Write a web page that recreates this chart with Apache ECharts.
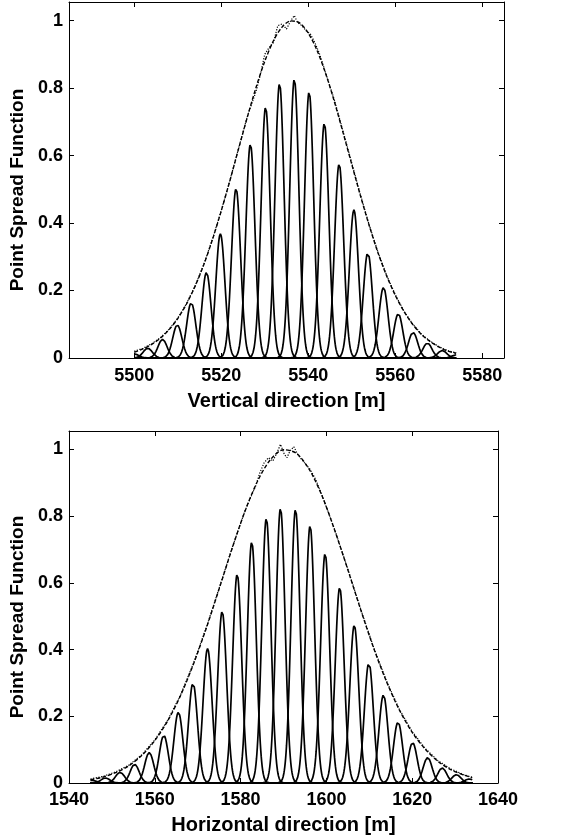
<!DOCTYPE html>
<html>
<head>
<meta charset="utf-8">
<script src="https://cdn.jsdelivr.net/npm/echarts@6/dist/echarts.min.js"></script>
<style>
html,body{margin:0;padding:0;background:#fff;}
#chart{width:577px;height:840px;}
</style>
</head>
<body>
<div id="chart"></div>
<script>
// ---------- data ----------
// Top panel: vertical direction
const xTicks1 = [5500, 5520, 5540, 5560, 5580];
const yTicks = [0, 0.2, 0.4, 0.6, 0.8, 1];
const peakCenters1 = [5500.0, 5503.1, 5506.5, 5509.9, 5513.1, 5516.6, 5519.8, 5523.4, 5526.7, 5530.2, 5533.4, 5536.8,
  5540.2, 5543.7, 5547.1, 5550.5, 5553.7, 5557.3, 5560.7, 5564.1, 5567.4, 5570.8, 5574.0];
const peakHeights1 = [0.012, 0.029, 0.055, 0.098, 0.164, 0.254, 0.368, 0.502, 0.634, 0.744, 0.814, 0.827,
  0.789, 0.696, 0.575, 0.439, 0.313, 0.209, 0.131, 0.076, 0.044, 0.022, 0.009];
const curveRange1 = [5500, 5574];
const envX1 = [5500, 5502, 5504, 5506, 5508, 5510, 5512, 5514, 5516, 5518, 5520, 5522, 5524, 5526, 5528, 5530,
  5532, 5534, 5536, 5538, 5540, 5542, 5544, 5546, 5548, 5550, 5552, 5554, 5556, 5558, 5560, 5562, 5564, 5566,
  5568, 5570, 5572, 5574];
const envDash1 = [0.017, 0.027, 0.040, 0.059, 0.084, 0.117, 0.160, 0.213, 0.277, 0.352, 0.436, 0.526, 0.621,
  0.714, 0.802, 0.879, 0.940, 0.981, 0.999, 0.993, 0.963, 0.912, 0.843, 0.760, 0.668, 0.574, 0.481, 0.393,
  0.313, 0.244, 0.186, 0.138, 0.100, 0.070, 0.049, 0.033, 0.021, 0.014];
const dotX1 = [5500, 5502, 5504, 5506, 5508, 5510, 5512, 5514, 5516, 5518, 5520, 5522, 5524, 5526, 5528, 5529,
  5530, 5531, 5532, 5533, 5534, 5535, 5536, 5536.8, 5537.5, 5538.5, 5539.5, 5540.5, 5541.5, 5542.5, 5544, 5546,
  5548, 5550, 5552, 5554, 5556, 5558, 5560, 5562, 5564, 5566, 5568, 5570, 5572, 5574];
const dotY1 = [0.020, 0.029, 0.042, 0.060, 0.085, 0.118, 0.161, 0.214, 0.278, 0.353, 0.437, 0.527, 0.622,
  0.716, 0.790, 0.840, 0.900, 0.920, 0.935, 0.985, 0.990, 0.975, 1.000, 1.015, 0.995, 0.985, 0.970, 0.960,
  0.935, 0.905, 0.845, 0.765, 0.672, 0.578, 0.484, 0.395, 0.315, 0.246, 0.188, 0.139, 0.101, 0.071, 0.050,
  0.034, 0.022, 0.015];

// Bottom panel: horizontal direction
const xTicks2 = [1540, 1560, 1580, 1600, 1620, 1640];
const peakCenters2 = [1545.3, 1548.5, 1551.9, 1555.3, 1558.7, 1562.1, 1565.5, 1568.9, 1572.3, 1575.7, 1579.2,
  1582.6, 1586.0, 1589.3, 1592.8, 1596.2, 1599.7, 1603.1, 1606.5, 1609.9, 1613.3, 1616.7, 1620.1, 1623.6,
  1627.0, 1630.3, 1633.3];
const peakHeights2 = [0.008, 0.015, 0.032, 0.056, 0.091, 0.143, 0.212, 0.300, 0.403, 0.514, 0.626, 0.723,
  0.794, 0.824, 0.821, 0.772, 0.688, 0.586, 0.473, 0.361, 0.264, 0.183, 0.121, 0.076, 0.045, 0.025, 0.012];
const curveRange2 = [1545, 1634];
const envX2 = [1545, 1548, 1551, 1554, 1557, 1560, 1563, 1566, 1569, 1572, 1575, 1578, 1581, 1584, 1587, 1590,
  1593, 1596, 1599, 1602, 1605, 1608, 1611, 1614, 1617, 1620, 1623, 1626, 1629, 1632, 1634];
const envDash2 = [0.010, 0.018, 0.032, 0.052, 0.083, 0.127, 0.186, 0.262, 0.356, 0.464, 0.582, 0.702, 0.814,
  0.906, 0.970, 0.999, 0.988, 0.940, 0.860, 0.755, 0.639, 0.519, 0.405, 0.304, 0.219, 0.152, 0.102, 0.065,
  0.040, 0.024, 0.016];
const dotX2 = [1545, 1548, 1551, 1554, 1557, 1560, 1563, 1566, 1569, 1572, 1575, 1578, 1581, 1582.5, 1583.5,
  1584.5, 1585.5, 1586.5, 1587.5, 1588.5, 1589.3, 1590.2, 1590.8, 1591.5, 1592.4, 1593.3, 1594.2, 1595.2,
  1596.2, 1597.5, 1599, 1602, 1605, 1608, 1611, 1614, 1617, 1620, 1623, 1626, 1629, 1632, 1634];
const dotY2 = [0.012, 0.020, 0.034, 0.054, 0.085, 0.129, 0.188, 0.264, 0.358, 0.466, 0.584, 0.704, 0.815,
  0.860, 0.890, 0.930, 0.960, 0.975, 0.965, 0.990, 1.015, 0.985, 0.975, 0.995, 1.008, 0.985, 0.970, 0.955,
  0.940, 0.910, 0.862, 0.757, 0.641, 0.521, 0.407, 0.306, 0.221, 0.154, 0.104, 0.067, 0.042, 0.025, 0.017];

const peakSigma = 1.05; // peak width (m)
const yMax = 1.055;

// ---------- build series ----------
function peakCurve(c, h, range) {
  const pts = [];
  for (let x = range[0]; x <= range[1] + 1e-9; x += 0.1) {
    pts.push([x, h * Math.exp(-((x - c) * (x - c)) / (2 * peakSigma * peakSigma))]);
  }
  return pts;
}
function zip(xs, ys) { return xs.map((x, i) => [x, ys[i]]); }

const series = [];
function addPanel(gi, centers, heights, range, ex, ed, dx, dy) {
  centers.forEach((c, i) => {
    series.push({
      type: 'line', xAxisIndex: gi * 2, yAxisIndex: gi * 2, showSymbol: false, silent: true,
      clip: false,
      data: peakCurve(c, heights[i], range),
      lineStyle: { color: '#000', width: 1.7 }
    });
  });
  series.push({
    type: 'line', xAxisIndex: gi * 2, yAxisIndex: gi * 2, showSymbol: false, silent: true,
    data: zip(ex, ed), smooth: 0.3,
    lineStyle: { color: '#000', width: 1.4, type: [4, 2] }
  });
  series.push({
    type: 'line', xAxisIndex: gi * 2, yAxisIndex: gi * 2, showSymbol: false, silent: true,
    data: zip(dx, dy),
    lineStyle: { color: '#000', width: 1.2, type: [1.2, 1.5] }
  });
}
addPanel(0, peakCenters1, peakHeights1, curveRange1, envX1, envDash1, dotX1, dotY1);
addPanel(1, peakCenters2, peakHeights2, curveRange2, envX2, envDash2, dotX2, dotY2);

const FONT = 'Liberation Sans';
const labelStyle = { color: '#000', fontFamily: FONT, fontWeight: 'bold', fontSize: 18 };

function xAxisMain(gi, min, max, ticks, name, margin, gap) {
  return {
    type: 'value', gridIndex: gi, min: min, max: max, position: 'bottom',
    name: name, nameLocation: 'middle', nameGap: gap,
    nameTextStyle: { color: '#000', fontFamily: FONT, fontWeight: 'bold', fontSize: 20 },
    axisLine: { show: true, onZero: false, lineStyle: { color: '#000', width: 1 } },
    axisTick: { show: true, inside: true, length: 5, customValues: ticks, lineStyle: { color: '#000' } },
    axisLabel: Object.assign({ margin: margin, customValues: ticks, formatter: v => String(v) }, labelStyle),
    splitLine: { show: false }
  };
}
function xAxisTop(gi, min, max, ticks) {
  return {
    type: 'value', gridIndex: gi, min: min, max: max, position: 'top',
    axisLine: { show: true, onZero: false, lineStyle: { color: '#000', width: 1 } },
    axisTick: { show: true, inside: true, length: 5, customValues: ticks, lineStyle: { color: '#000' } },
    axisLabel: { show: false }, splitLine: { show: false }
  };
}
function yAxisMain(gi) {
  return {
    type: 'value', gridIndex: gi, min: 0, max: yMax, position: 'left',
    name: 'Point Spread Function', nameLocation: 'middle', nameGap: 37, nameRotate: 90,
    nameTextStyle: { color: '#000', fontFamily: FONT, fontWeight: 'bold', fontSize: 19, padding: [0, 20, 0, 0] },
    axisLine: { show: true, onZero: false, lineStyle: { color: '#000', width: 1 } },
    axisTick: { show: true, inside: true, length: 5, customValues: yTicks, lineStyle: { color: '#000' } },
    axisLabel: Object.assign({ margin: 6, customValues: yTicks, formatter: v => String(v) }, labelStyle),
    splitLine: { show: false }
  };
}
function yAxisRight(gi) {
  return {
    type: 'value', gridIndex: gi, min: 0, max: yMax, position: 'right',
    axisLine: { show: true, onZero: false, lineStyle: { color: '#000', width: 1 } },
    axisTick: { show: true, inside: true, length: 5, customValues: yTicks, lineStyle: { color: '#000' } },
    axisLabel: { show: false }, splitLine: { show: false }
  };
}

const chart = echarts.init(document.getElementById('chart'), null, { renderer: 'canvas' });
chart.setOption({
  animation: false,
  backgroundColor: '#fff',
  grid: [
    { left: 69, top: 2, width: 435, height: 356 },
    { left: 69, top: 431, width: 429, height: 352 }
  ],
  xAxis: [
    xAxisMain(0, 5485, 5585, xTicks1, 'Vertical direction [m]', 9, 33),
    xAxisTop(0, 5485, 5585, xTicks1),
    xAxisMain(1, 1540, 1640, xTicks2, 'Horizontal direction [m]', 8, 32),
    xAxisTop(1, 1540, 1640, xTicks2)
  ],
  yAxis: [yAxisMain(0), yAxisRight(0), yAxisMain(1), yAxisRight(1)],
  series: series
});
</script>
</body>
</html>
